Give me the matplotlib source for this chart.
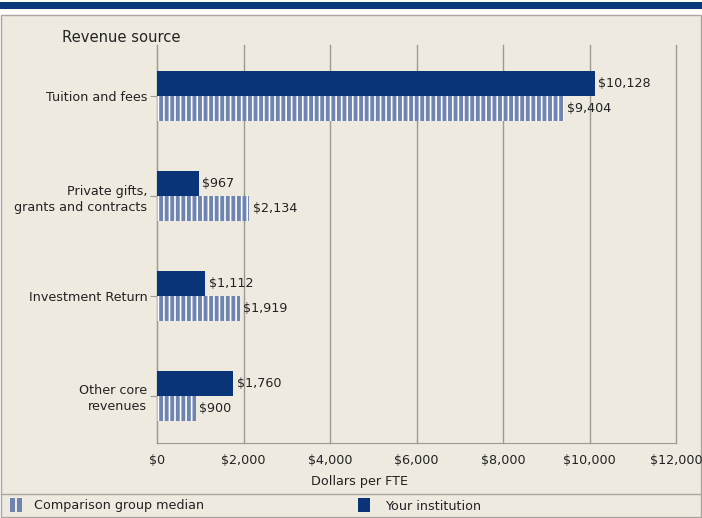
import matplotlib.pyplot as plt
from matplotlib.patches import Rectangle
from matplotlib.lines import Line2D
import numpy as np

categories = ["Tuition and fees", "Private gifts,\ngrants and contracts",
              "Investment Return", "Other core\nrevenues"]
your_inst = [10128, 967, 1112, 1760]
comp_median = [9404, 2134, 1919, 900]
xticks = [0, 2000, 4000, 6000, 8000, 10000, 12000]

navy = "#0a3478"
stripe = "#6f84b0"
bg = "#eeeae0"
grid = "#9c9a94"
txt = "#222222"
fs = 9.2

plt.rcParams['font.family'] = ['DejaVu Sans']
plt.rcParams['hatch.linewidth'] = 1.2

fig = plt.figure(figsize=(7.02, 5.18), dpi=100)
fig.patch.set_facecolor("white")
W, H = 702, 518

# header band and panel
fig.patches.append(Rectangle((0, 1 - 9/H), 1, 7/H, transform=fig.transFigure,
                             facecolor="#0a3a7a", edgecolor="none", zorder=-10))
fig.patches.append(Rectangle((1/W, 1/H), 1 - 2/W, 1 - 16/H, transform=fig.transFigure,
                             facecolor=bg, edgecolor="#a8a69e", linewidth=1, zorder=-10))

ax = fig.add_axes([157/W, 1 - 443/H, (676 - 157)/W, (443 - 45)/H])
ax.patch.set_alpha(0)

y = np.arange(len(categories))
h = 0.25
ax.barh(y - h/2, your_inst, height=h, color=navy, zorder=3)
ax.barh(y + h/2, comp_median, height=h, color=stripe, edgecolor="white",
        linewidth=0, hatch="|||", zorder=3)

for yi, v in zip(y, your_inst):
    ax.text(v + 80, yi - h/2, f"${v:,}", va="center", ha="left", fontsize=fs, color=txt)
for yi, v in zip(y, comp_median):
    ax.text(v + 80, yi + h/2, f"${v:,}", va="center", ha="left", fontsize=fs, color=txt)

ax.set_xlim(0, 12000)
ax.set_ylim(3.47, -0.51)
ax.set_xticks(xticks)
ax.set_xticklabels([f"${t:,}" for t in xticks], fontsize=fs, color=txt)
ax.set_yticks(y)
ax.set_yticklabels(categories, fontsize=fs, color=txt, linespacing=1.3)
ax.xaxis.grid(True, color=grid, linewidth=1, zorder=0, clip_on=False)
for gl in ax.get_xgridlines():
    gl.set_clip_on(False)
ax.tick_params(axis="x", length=0, pad=8)
ax.tick_params(axis="y", length=5, color=grid, pad=2)
for s in ["top", "right"]:
    ax.spines[s].set_visible(False)
for s in ["left", "bottom"]:
    ax.spines[s].set_color(grid)

fig.text(62/W, 1 - 38/H, "Revenue source", fontsize=10.6, color=txt, va="center")
fig.text(360/W, 1 - 482/H, "Dollars per FTE", fontsize=fs, color=txt,
         ha="center", va="center")

# legend
fig.lines.append(Line2D([1/W, 1 - 1/W], [1 - 494/H, 1 - 494/H], transform=fig.transFigure,
                        color="#a8a69e", linewidth=1))
for x0 in (10, 17):
    fig.patches.append(Rectangle((x0/W, 1 - 512/H), 5/W, 14/H, transform=fig.transFigure,
                                 facecolor=stripe, edgecolor="none"))
fig.text(34/W, 1 - 506/H, "Comparison group median", fontsize=fs, color=txt, va="center")
fig.patches.append(Rectangle((358/W, 1 - 512/H), 12/W, 14/H, transform=fig.transFigure,
                             facecolor=navy, edgecolor="none"))
fig.text(385/W, 1 - 506/H, "Your institution", fontsize=fs, color=txt, va="center")

fig.savefig("out.png", dpi=100)
